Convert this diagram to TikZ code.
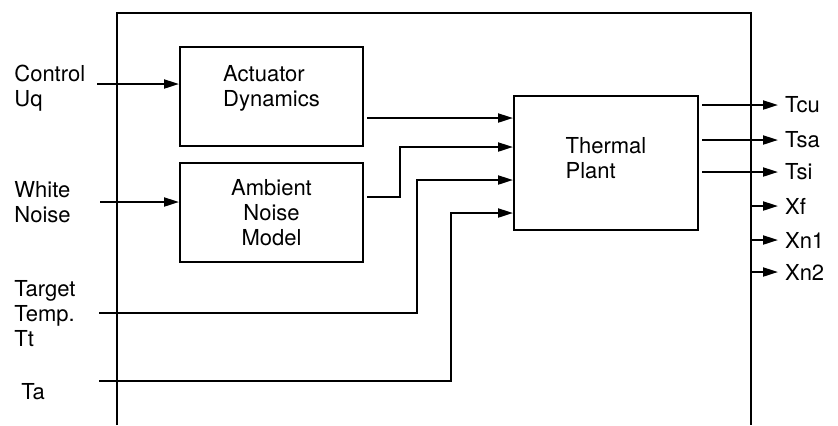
\documentclass[tikz,border=0pt]{standalone}
\usepackage{fontspec}
\setmainfont{TeX Gyre Heros}
\usetikzlibrary{arrows.meta,positioning}

\tikzset{
	block/.style={draw, line width=1pt, minimum width=91.5pt, minimum height=49.5pt, inner sep=0pt},
	sig/.style={line width=1pt, -{Triangle[length=7.5pt,width=4.5pt]}},
	wire/.style={line width=1pt},
	lbl/.style={align=left, inner sep=0pt, anchor=west},
}

\begin{document}
\begin{tikzpicture}[x=0.5pt, y=-0.5pt, font=\fontsize{11}{12.5}\selectfont]
	
	\useasboundingbox (0,0) rectangle (838,425);
	
	% ---- Outer frame (open at the bottom) ----
	\coordinate (frameL) at (117,13);
	\coordinate (frameR) at (751,13);
	\draw[wire] (117,425) -- (frameL) -- (frameR) -- (751,425);
	
	% ---- Blocks ----
	\node[block] (act) at (271.5,96.5) {};
	\node[block] (amb) at (271.5,212.5) {};
	\node[block, minimum width=92pt, minimum height=67pt] (plant) at (606,163) {};
	
	\node[align=left] (actT) at ([yshift=4pt]act.center) {Actuator\\Dynamics};
	\node[align=center] (ambT) at (amb.center) {Ambient\\Noise\\Model};
	\node[align=left] (plantT) at ([yshift=2.5pt]plant.center) {Thermal\\Plant};
	
	% ---- Input labels ----
	\node[lbl] (inUq) at (14,88) {Control\\Uq};
	\node[lbl] (inWn) at (14,202) {White\\Noise};
	\node[lbl] (inTt) at (14,314) {Target\\Temp.\\Tt};
	\node[lbl] (inTa) at (21,392) {Ta};
	
	\coordinate (uqSrc) at (97,84);
	\coordinate (wnSrc) at (100,202);
	\coordinate (ttSrc) at (99,313);
	\coordinate (taSrc) at (99,381);
	
	% ---- Plant input points ----
	\foreach \i/\y in {1/118,2/147,3/180,4/213}
	\coordinate (p\i) at (plant.west |- 0,\y);
	
	% ---- Inputs ----
	\draw[sig] (uqSrc) -- (uqSrc -| act.west);
	\draw[sig] (wnSrc) -- (wnSrc -| amb.west);
	\draw[sig, shorten <=1.5pt] (act.east |- p1) -- (p1);
	\draw[sig, shorten <=1.5pt] (amb.east |- 0,197) -- (400,197) |- (p2);
	\draw[sig] (ttSrc) -- (417,313) |- (p3);
	\draw[sig] (taSrc) -- (451,381) |- (p4);
	
	% ---- Outputs from the plant ----
	\foreach \y/\name in {105/Tcu,140/Tsa,172/Tsi}
	{
		\node[anchor=west] (o\name) at (778,\y) {\name};
		\draw[sig, shorten <=1.5pt] (plant.east |- o\name) -- (o\name.west);
	}
	
	% ---- Outputs from the frame ----
	\foreach \y/\name in {206/Xf,240/Xn1,272/Xn2}
	{
		\node[anchor=west] (o\name) at (778,\y) {\name};
		\draw[sig] (frameR |- o\name) -- (o\name.west);
	}
	
\end{tikzpicture}
\end{document}
